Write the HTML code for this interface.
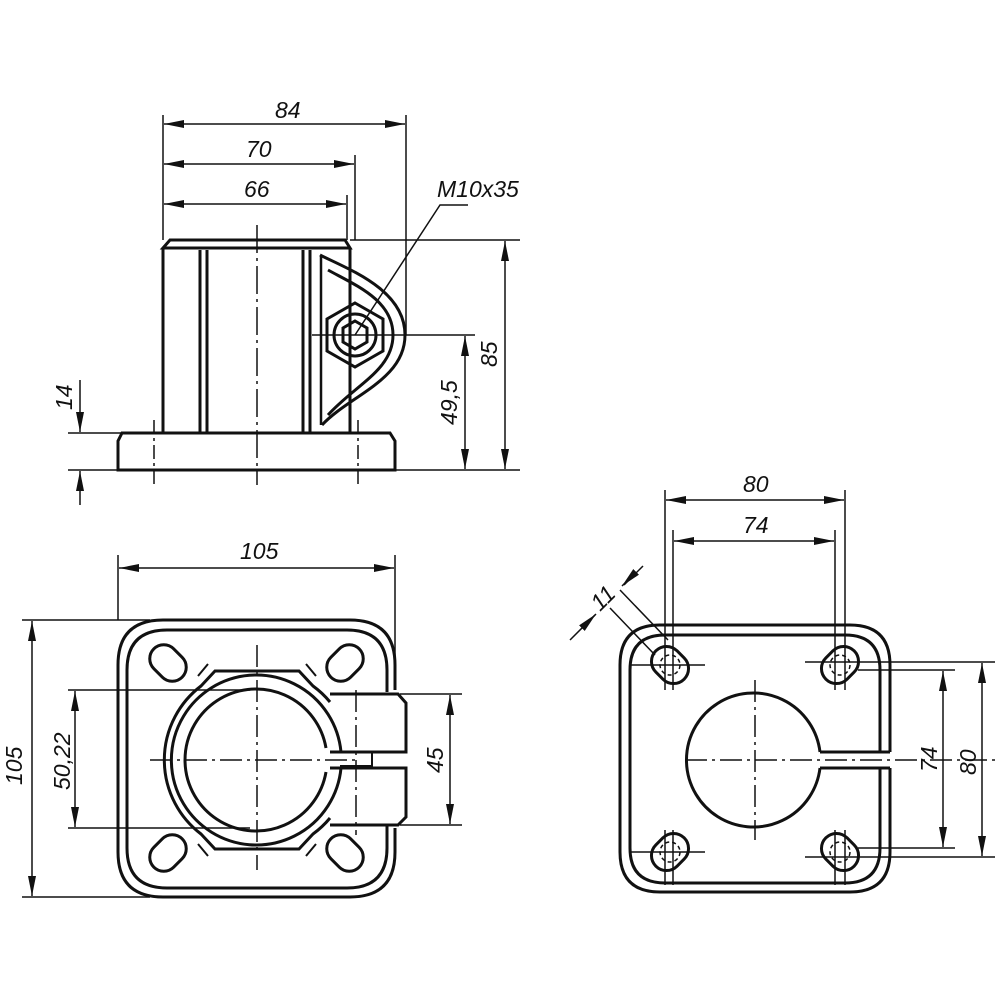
<!DOCTYPE html>
<html><head><meta charset="utf-8"><style>
html,body{margin:0;padding:0;background:#fff;width:1000px;height:1000px;overflow:hidden}
text{font-family:"Liberation Sans",sans-serif;font-style:italic;font-size:23px;fill:#111;stroke:none}
</style></head><body>
<svg width="1000" height="1000" viewBox="0 0 1000 1000" xmlns="http://www.w3.org/2000/svg">
<defs>
<marker id="a" viewBox="0 0 20 8" refX="20" refY="4" markerWidth="20" markerHeight="8" markerUnits="userSpaceOnUse" orient="auto-start-reverse"><path d="M0,0 L20,4 L0,8 Z" fill="#111" stroke="none"/></marker>
</defs>
<g stroke="#111" fill="none" stroke-width="1.5">
<!-- ===== SIDE VIEW ===== -->
<g stroke-width="3">
<path d="M170,240 L345,240 L350,248 L163,248 Z"/>
<path d="M163,248 L163,432 M350,248 L350,432"/>
<path d="M200,250 L200,432 M207,250 L207,432 M303,250 L303,432 M310,250 L310,432"/>
<path d="M122,433 L390,433 L395,441 L395,470 L118,470 L118,441 Z"/>
<path d="M320,255 C350,270 405,290 405,335 C405,380 350,395 322,425" />
<path d="M328,270 C355,285 393,300 393,335 C393,370 355,385 328,415" />
<path d="M321,255 L321,425" stroke-width="2.5"/>
<polygon points="355,303 383,319 383,351 355,367 327,351 327,319"/>
<circle cx="355" cy="335" r="21"/>
<polygon points="355,321 367,328 367,342 355,349 343,342 343,328"/>
</g>
<path d="M257,225 L257,485" stroke-dasharray="28,5,3,5"/>
<path d="M154,420 L154,485 M358,420 L358,485" stroke-dasharray="14,4,3,4"/>
<path d="M312,335 L475,335"/>
<path d="M163,115 L163,240 M406,115 L406,335 M355,155 L355,240 M347,195 L347,240"/>
<path d="M164,124 L405,124" marker-start="url(#a)" marker-end="url(#a)"/>
<path d="M164,164 L354,164" marker-start="url(#a)" marker-end="url(#a)"/>
<path d="M164,204 L346,204" marker-start="url(#a)" marker-end="url(#a)"/>
<text x="275" y="118">84</text>
<text x="246" y="157">70</text>
<text x="244" y="197">66</text>
<path d="M355,335 L440,205 L468,205"/>
<text x="437" y="197">M10x35</text>
<path d="M350,240 L520,240 M395,470 L520,470"/>
<path d="M505,241 L505,469" marker-start="url(#a)" marker-end="url(#a)"/>
<path d="M465,336 L465,469" marker-start="url(#a)" marker-end="url(#a)"/>
<text transform="translate(497,367) rotate(-90)">85</text>
<text transform="translate(457,425) rotate(-90)">49,5</text>
<path d="M68,433 L122,433 M68,470 L118,470"/>
<path d="M80,380 L80,432" marker-end="url(#a)"/>
<path d="M80,505 L80,471" marker-end="url(#a)"/>
<text transform="translate(72,410) rotate(-90)">14</text>

<!-- ===== BOTTOM LEFT VIEW ===== -->
<g stroke-width="3">
<path d="M395,690 L395,665 Q395,620 350,620 L163,620 Q118,620 118,665 L118,852 Q118,897 163,897 L350,897 Q395,897 395,852 L395,828"/>
<path d="M387,692 L387,670 Q387,630 347,630 L167,630 Q127,630 127,670 L127,848 Q127,888 167,888 L347,888 Q387,888 387,848 L387,826"/>
<g transform="translate(168,663) rotate(45)"><rect x="-20" y="-14" width="40" height="28" rx="14"/></g>
<g transform="translate(345,663) rotate(-45)"><rect x="-20" y="-14" width="40" height="28" rx="14"/></g>
<g transform="translate(168,853) rotate(-45)"><rect x="-20" y="-14" width="40" height="28" rx="14"/></g>
<g transform="translate(345,853) rotate(45)"><rect x="-20" y="-14" width="40" height="28" rx="14"/></g>
<path d="M326,748 A71,71 0 1 0 326,772" />
<path d="M341,752 A85,85 0 1 0 341,768"/>
<path d="M330,702 A93,93 0 0 0 313,686 L299,671 L215,671 L201,686 A93,93 0 0 0 201,834 L215,849 L299,849 L313,834 A93,93 0 0 0 330,818"/>
<path d="M330,694 L398,694 L406,703 L406,752 L330,752"/>
<path d="M330,768 L406,768 L406,817 L398,825 L330,825"/>
<path d="M340,752 L372,752 L372,766 L340,766" stroke-width="2"/>
</g>
<path d="M306,664 L316,676 M208,664 L198,676 M306,856 L316,844 M208,856 L198,844" stroke-width="2"/>
<path d="M150,760 L360,760 M257,645 L257,870 M356,690 L356,835" stroke-dasharray="22,5,3,5"/>
<path d="M118,555 L118,620 M395,555 L395,690"/>
<path d="M119,568 L394,568" marker-start="url(#a)" marker-end="url(#a)"/>
<text x="240" y="559">105</text>
<path d="M22,620 L150,620 M22,897 L150,897"/>
<path d="M32,621 L32,896" marker-start="url(#a)" marker-end="url(#a)"/>
<text transform="translate(22,785) rotate(-90)">105</text>
<path d="M68,690 L250,690 M68,828 L250,828"/>
<path d="M75,691 L75,827" marker-start="url(#a)" marker-end="url(#a)"/>
<text transform="translate(70,790) rotate(-90)">50,22</text>
<path d="M400,694 L462,694 M400,825 L462,825"/>
<path d="M450,695 L450,824" marker-start="url(#a)" marker-end="url(#a)"/>
<text transform="translate(443,773) rotate(-90)">45</text>

<!-- ===== BOTTOM RIGHT VIEW ===== -->
<g stroke-width="3">
<path d="M890,752 L890,665 Q890,625 850,625 L660,625 Q620,625 620,665 L620,852 Q620,892 660,892 L850,892 Q890,892 890,852 L890,768"/>
<path d="M880,752 L880,670 Q880,635 845,635 L665,635 Q630,635 630,670 L630,848 Q630,883 665,883 L845,883 Q880,883 880,848 L880,768"/>
<path d="M820,752 A67,67 0 1 0 820,768 M820,752 L890,752 M820,768 L890,768"/>
<g transform="translate(670,665) rotate(45)"><rect x="-20" y="-15" width="40" height="30" rx="15"/></g>
<g transform="translate(840,665) rotate(-45)"><rect x="-20" y="-15" width="40" height="30" rx="15"/></g>
<g transform="translate(670,852) rotate(-45)"><rect x="-20" y="-15" width="40" height="30" rx="15"/></g>
<g transform="translate(840,852) rotate(45)"><rect x="-20" y="-15" width="40" height="30" rx="15"/></g>
</g>
<g stroke-dasharray="4,3">
<circle cx="670" cy="665" r="10"/><circle cx="840" cy="665" r="10"/><circle cx="670" cy="852" r="10"/><circle cx="840" cy="852" r="10"/>
</g>
<path d="M630,665 L705,665 M805,662 L995,662 M630,852 L705,852 M805,857 L995,857 M665,490 L665,690 M673,530 L673,690 M835,530 L835,690 M845,490 L845,690 M665,830 L665,885 M673,830 L673,885 M835,830 L835,885 M845,830 L845,885 M858,670 L955,670 M858,848 L955,848"/>
<path d="M685,760 L1000,760 M755,680 L755,840" stroke-dasharray="22,5,3,5"/>
<path d="M666,500 L844,500" marker-start="url(#a)" marker-end="url(#a)"/>
<path d="M674,541 L834,541" marker-start="url(#a)" marker-end="url(#a)"/>
<text x="743" y="492">80</text>
<text x="743" y="533">74</text>
<path d="M982,663 L982,856" marker-start="url(#a)" marker-end="url(#a)"/>
<path d="M943,671 L943,847" marker-start="url(#a)" marker-end="url(#a)"/>
<text transform="translate(976,775) rotate(-90)">80</text>
<text transform="translate(937,772) rotate(-90)">74</text>
<path d="M655,655 L610,608 M668,640 L620,590"/>
<path d="M570,640 L595,615" /><path d="M643,566 L624,585"/>
<path d="M590,620 L596,614" marker-end="url(#a)"/>
<path d="M628,580 L622,586" marker-end="url(#a)"/>
<text transform="translate(600,612) rotate(-45)">11</text>
</g>
</svg>
</body></html>
